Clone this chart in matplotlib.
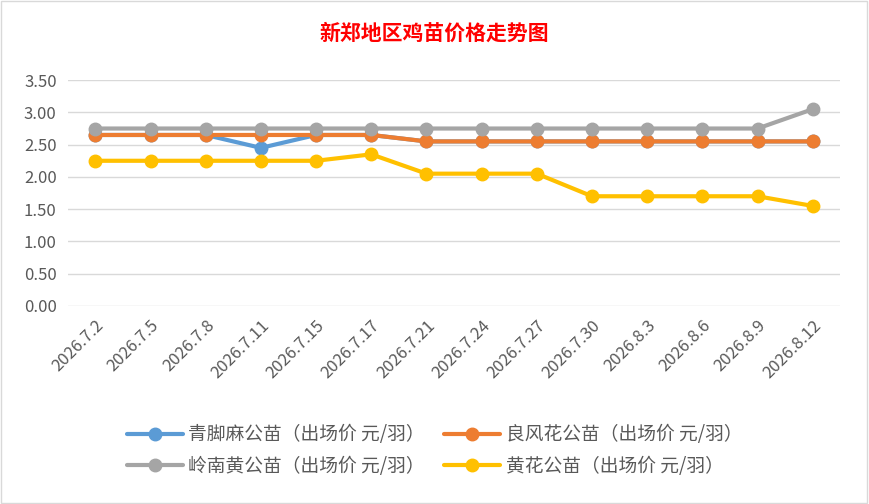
import matplotlib.pyplot as plt
from matplotlib.patches import Rectangle

plt.rcParams['font.family'] = ['Noto Sans CJK SC', 'DejaVu Sans']

dates = ['2026.7.2', '2026.7.5', '2026.7.8', '2026.7.11', '2026.7.15', '2026.7.17', '2026.7.21',
         '2026.7.24', '2026.7.27', '2026.7.30', '2026.8.3', '2026.8.6', '2026.8.9', '2026.8.12']
qingjiaoma = [2.65, 2.65, 2.65, 2.45, 2.65, 2.65, 2.55, 2.55, 2.55, 2.55, 2.55, 2.55, 2.55, 2.55]
liangfenghua = [2.65, 2.65, 2.65, 2.65, 2.65, 2.65, 2.55, 2.55, 2.55, 2.55, 2.55, 2.55, 2.55, 2.55]
lingnanhuang = [2.75, 2.75, 2.75, 2.75, 2.75, 2.75, 2.75, 2.75, 2.75, 2.75, 2.75, 2.75, 2.75, 3.05]
huanghua = [2.25, 2.25, 2.25, 2.25, 2.25, 2.35, 2.05, 2.05, 2.05, 1.70, 1.70, 1.70, 1.70, 1.55]

series = [
    ('青脚麻公苗（出场价 元/羽）', qingjiaoma, '#5B9BD5'),
    ('良风花公苗（出场价 元/羽）', liangfenghua, '#ED7D31'),
    ('岭南黄公苗（出场价 元/羽）', lingnanhuang, '#A5A5A5'),
    ('黄花公苗（出场价 元/羽）', huanghua, '#FFC000'),
]

fig = plt.figure(figsize=(8.69, 5.04), dpi=100)
fig.patches.append(Rectangle((0.001, 0.001), 0.997, 0.997, transform=fig.transFigure,
                             fill=False, edgecolor='#d9d9d9', lw=1))
ax = fig.add_axes([0.078, 0.393, 0.889, 0.448])

x = range(len(dates))
lines = []
for name, vals, col in series:
    ln, = ax.plot(x, vals, color=col, lw=3, marker='o', ms=9, label=name, solid_capstyle='round')
    lines.append(ln)

ax.set_xlim(-0.5, len(dates) - 0.5)
ax.set_ylim(0, 3.5)
ax.set_yticks([i * 0.5 for i in range(8)])
ax.set_yticklabels([f'{i * 0.5:.2f}' for i in range(8)])
ax.set_xticks(list(x))
ax.set_xticklabels(dates, rotation=45, ha='right', rotation_mode='anchor')
ax.tick_params(length=0, labelsize=12, colors='#595959', pad=8)
ax.grid(axis='y', color='#d9d9d9', lw=1)
ax.set_axisbelow(True)
for s in ax.spines.values():
    s.set_visible(False)

fig.text(0.5, 0.935, '新郑地区鸡苗价格走势图', color='#FF0000', fontsize=15,
         fontweight='bold', ha='center', va='center')

# legend is filled row by row in the reference
order = [0, 2, 1, 3]
fig.legend([lines[i] for i in order], [series[i][0] for i in order],
           loc='center', bbox_to_anchor=(0.5, 0.106), ncol=2, frameon=False,
           fontsize=13.5, labelcolor='#595959', handlelength=3.0, columnspacing=1.0,
           handletextpad=0.3, labelspacing=0.55)

fig.savefig('out.png', dpi=100)
